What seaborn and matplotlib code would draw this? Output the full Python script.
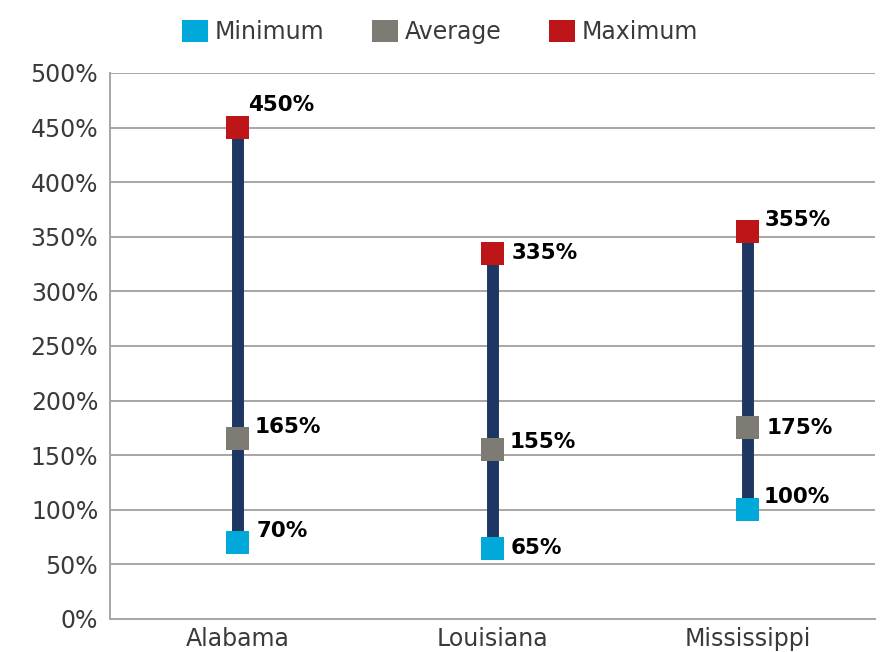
import matplotlib

matplotlib.use("Agg")
import matplotlib.pyplot as plt
import pandas as pd
import seaborn as sns
from matplotlib.patches import Patch
from matplotlib.ticker import FixedLocator, PercentFormatter

states = ["Alabama", "Louisiana", "Mississippi"]
minimum = [70, 65, 100]
average = [165, 155, 175]
maximum = [450, 335, 355]
series_names = ["Minimum", "Average", "Maximum"]
y_ticks = list(range(0, 501, 50))

# label nudges in pixels (dx, dy) per state, per series
label_dx = [[19, 17, 11], [18, 17, 19], [16, 19, 17]]
label_dy = [[12, 12, 23], [0, 8, 0], [13, 0, 11]]

colors = {"Minimum": "#00A9D9", "Average": "#7E7B74", "Maximum": "#BD1518"}
range_color = "#1E3762"
grid_color = "#A9A5A0"
text_color = "#3A3A3A"

sns.set_style("white")
plt.rcParams["font.family"] = ["DejaVu Sans"]

rows = []
for i, state in enumerate(states):
    for name, vals in zip(series_names, [minimum, average, maximum]):
        rows.append({"state": state, "series": name, "value": vals[i]})
frame = pd.DataFrame(rows)
frame["x"] = frame["state"].map({s: i for i, s in enumerate(states)})

fig = plt.figure(figsize=(8.81, 6.52), dpi=100)
ax = fig.add_axes([110 / 881, 33 / 652, 765 / 881, 546 / 652])

range_rows = frame[frame["series"].isin(["Minimum", "Maximum"])]
sns.lineplot(
    data=range_rows,
    x="x",
    y="value",
    units="state",
    estimator=None,
    sort=False,
    color=range_color,
    linewidth=8.6,
    solid_capstyle="butt",
    legend=False,
    ax=ax,
    zorder=2,
)
sns.scatterplot(
    data=frame,
    x="x",
    y="value",
    hue="series",
    palette=colors,
    marker="s",
    s=275,
    linewidth=0,
    legend=False,
    ax=ax,
    zorder=3,
)

for _, row in frame.iterrows():
    si = series_names.index(row["series"])
    xi = int(row["x"])
    ax.annotate(
        f"{row['value']}%",
        (xi, row["value"]),
        xytext=(label_dx[xi][si] * 0.72, label_dy[xi][si] * 0.72),
        textcoords="offset points",
        ha="left",
        va="center",
        fontsize=15.5,
        fontweight="bold",
        color="black",
    )

ax.set_xlim(-0.5, len(states) - 0.5)
ax.set_ylim(0, 500)
ax.set_yticks(y_ticks)
ax.yaxis.set_major_formatter(PercentFormatter(decimals=0))
ax.set_xticks(range(len(states)))
ax.set_xticklabels(states)
ax.xaxis.set_minor_locator(FixedLocator([i - 0.5 for i in range(len(states) + 1)]))
ax.tick_params(axis="x", which="major", length=0, pad=6, labelsize=17, labelcolor=text_color)
ax.tick_params(axis="x", which="minor", length=7, width=1.3, color=grid_color)
ax.tick_params(axis="y", length=4.5, width=1.3, color=grid_color, pad=4, labelsize=17, labelcolor=text_color)
ax.grid(axis="y", color=grid_color, linewidth=1.4)
ax.set_axisbelow(True)
ax.set_xlabel("")
ax.set_ylabel("")
for side in ["top", "right"]:
    ax.spines[side].set_visible(False)
for side in ["left", "bottom"]:
    ax.spines[side].set_color(grid_color)
    ax.spines[side].set_linewidth(1.4)

handles = [Patch(facecolor=colors[n], edgecolor="none", label=n) for n in series_names]
fig.legend(
    handles=handles,
    loc="center",
    bbox_to_anchor=(440 / 881, 1 - 32 / 652),
    ncol=3,
    frameon=False,
    fontsize=17,
    handlelength=1.1,
    handleheight=1.1,
    handletextpad=0.3,
    columnspacing=2.0,
    labelcolor=text_color,
)

fig.savefig("out.png", dpi=100)
